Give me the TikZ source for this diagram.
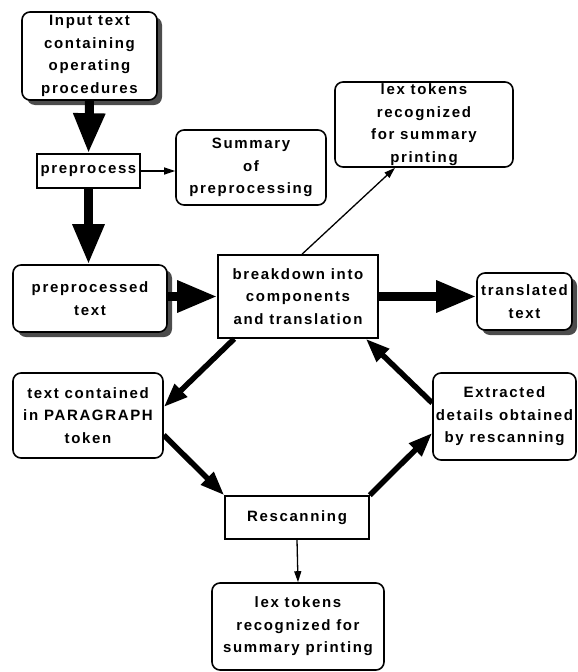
\documentclass[tikz,border=0pt]{standalone}
\usepackage{fontspec}
\setmainfont{Liberation Sans}[LetterSpace=11]
\usetikzlibrary{arrows.meta,calc,shadows}
\begin{document}
\begin{tikzpicture}[x=1pt,y=-1pt,
  txt/.style={font=\fontsize{15}{22.5}\selectfont\bfseries, align=center, inner sep=0pt},
  roundbox/.style={txt, draw, line width=1.6pt, rounded corners=8pt, fill=white},
  squarebox/.style={txt, draw, line width=1.6pt, fill=white},
  shadowed/.style={drop shadow={shadow xshift=5pt, shadow yshift=-5pt, fill=black!70, opacity=1}},
  bigarrow/.style={line width=9pt, -{Triangle[length=40pt,width=30pt]}},
  midarrow/.style={line width=5.5pt, -{Triangle[length=24pt,width=17pt]}},
  thinarrow/.style={line width=1.3pt, -{Triangle[length=11pt,width=7pt]}}
]
\useasboundingbox (0,0) rectangle (578,672);

% boxes
\node[roundbox, shadowed, minimum width=135pt, minimum height=88pt] (input) at (89.5,56)
  {Input text\\containing\\operating\\procedures};
\node[squarebox, minimum width=103pt, minimum height=34pt] (prep) at (88.5,171) {preprocess};
\node[roundbox, minimum width=150pt, minimum height=75pt] (summary) at (251,167.5)
  {Summary\\of\\preprocessing};
\node[roundbox, minimum width=178pt, minimum height=85pt] (lexa) at (424,124.5)
  {lex tokens\\recognized\\for summary\\printing};
\node[roundbox, shadowed, minimum width=154pt, minimum height=67pt] (pptext) at (90,298.5)
  {preprocessed\\text};
\node[squarebox, minimum width=160pt, minimum height=83pt] (breakdown) at (298,296.5)
  {breakdown into\\components\\and translation};
\node[roundbox, shadowed, minimum width=95pt, minimum height=57pt] (transl) at (524.5,301.5)
  {translated\\text};
\node[roundbox, minimum width=150pt, minimum height=85pt] (para) at (88,415.5)
  {text contained\\in PARAGRAPH\\token};
\node[roundbox, minimum width=143pt, minimum height=87pt] (extract) at (504.5,416.5)
  {Extracted\\details obtained\\by rescanning};
\node[squarebox, minimum width=144pt, minimum height=43pt] (rescan) at (297,517.5) {Rescanning};
\node[roundbox, minimum width=172pt, minimum height=87pt] (lexb) at (298,626.5)
  {lex tokens\\recognized for\\summary printing};

% main flow
\draw[bigarrow] (input.south) -- (prep.north);
\draw[bigarrow] (prep.south) -- (pptext.north -| prep.south);
\draw[bigarrow] (pptext.east |- breakdown.east) -- (breakdown.west);
\draw[bigarrow] (breakdown.east) -- (breakdown.east -| transl.west);

% rescanning loop
\draw[midarrow] ($(breakdown.south west)+(17,0)$) -- ($(para.east)+(0,-8.5)$);
\draw[midarrow] ($(para.east)+(0,19.5)$) -- (rescan.north west);
\draw[midarrow] (rescan.north east) -- ($(extract.west)+(0,16.5)$);
\draw[midarrow] ($(extract.west)+(0,-13.5)$) -- ($(breakdown.south east)+(-13,0)$);

% summary outputs
\draw[thinarrow] (prep.east) -- (prep.east -| summary.west);
\draw[thinarrow] ($(breakdown.north)+(4,0)$) -- ($(lexa.south)+(-29,0)$);
\draw[thinarrow] (rescan.south) -- (lexb.north);
\end{tikzpicture}
\end{document}
